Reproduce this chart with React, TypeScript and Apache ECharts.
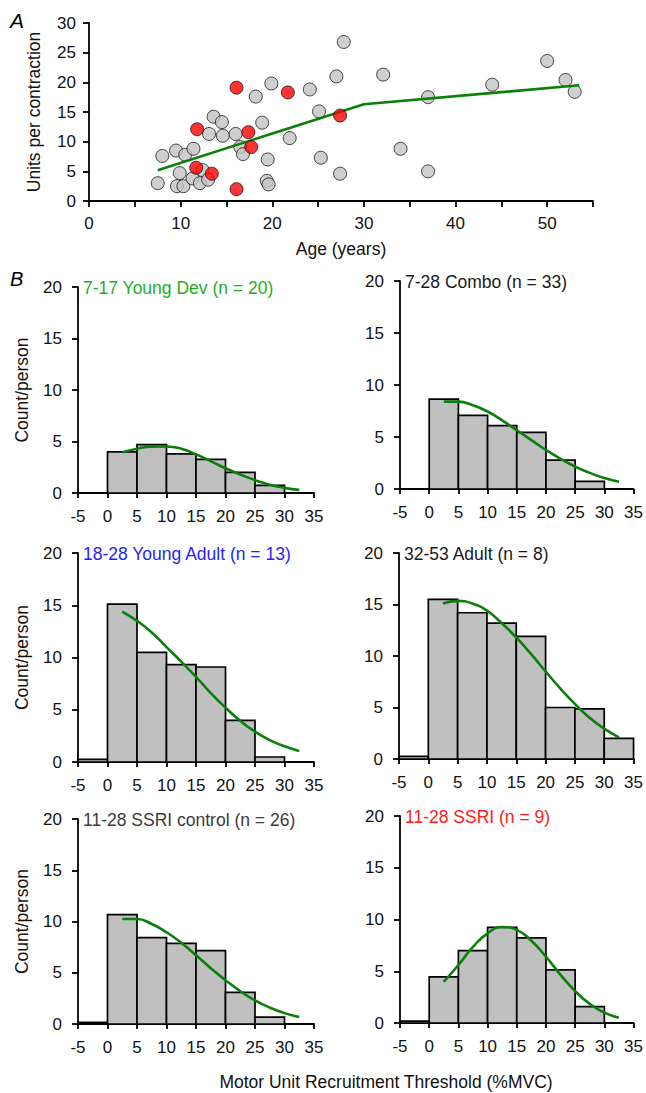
import React, { useEffect, useRef } from "react";
import * as echarts from "echarts";

// ---------- Panel A data ----------
const grayAge = [7.5, 8.0, 9.5, 9.6, 9.9, 10.3, 10.5, 11.4, 11.3, 12.1, 12.4, 13.1, 13.0, 13.6, 14.5, 14.6, 16.0, 16.5, 16.8, 18.2, 18.9, 19.5, 19.4, 19.6, 19.9, 21.9, 24.1, 25.1, 25.3, 27.0, 27.8, 27.4, 32.1, 34.0, 37.0, 37.0, 44.0, 50.0, 52.0, 53.0];
const grayUnits = [3.0, 7.6, 8.5, 2.5, 4.7, 2.5, 7.8, 8.8, 3.8, 3.0, 5.2, 11.3, 3.6, 14.2, 13.3, 11.0, 11.3, 9.1, 7.9, 17.6, 13.2, 7.0, 3.4, 2.8, 19.8, 10.6, 18.8, 15.1, 7.3, 21.0, 26.8, 4.6, 21.3, 8.8, 17.5, 5.0, 19.6, 23.6, 20.4, 18.4];
const redAge = [16.1, 21.7, 11.8, 17.4, 17.7, 11.7, 13.4, 16.1, 27.4];
const redUnits = [19.1, 18.3, 12.1, 11.6, 9.1, 5.6, 4.6, 2.0, 14.4];
const fitAge = [7.5, 30, 53.5];
const fitUnits = [5.2, 16.3, 19.5];

// ---------- Panel B data ----------
const binStarts = [-5, 0, 5, 10, 15, 20, 25, 30];
const binWidth = 5;
const curveX = [2.5, 5, 7.5, 10, 12.5, 15, 17.5, 20, 22.5, 25, 27.5, 30, 32.5];

const titles = [
  "7-17 Young Dev (n = 20)",
  "7-28 Combo (n = 33)",
  "18-28 Young Adult (n = 13)",
  "32-53 Adult (n = 8)",
  "11-28 SSRI control (n = 26)",
  "11-28 SSRI (n = 9)",
];
const titleColors = ["#1fae1f", "#1a1a1a", "#1f1fff", "#1a1a1a", "#3c3c3c", "#ff1a1a"];

const countsYoungDev = [0, 4.0, 4.7, 3.8, 3.27, 2.0, 0.75, 0];
const countsCombo = [0, 8.65, 7.07, 6.1, 5.44, 2.78, 0.74, 0];
const countsYoungAdult = [0.26, 15.1, 10.5, 9.32, 9.09, 3.99, 0.48, 0];
const countsAdult = [0.26, 15.5, 14.2, 13.2, 11.9, 5.0, 4.86, 2.0];
const countsSsriControl = [0.16, 10.67, 8.42, 7.87, 7.15, 3.09, 0.68, 0];
const countsSsri = [0.19, 4.45, 7.0, 9.23, 8.23, 5.13, 1.58, 0];

const curveYoungDev = [3.95, 4.3, 4.5, 4.52, 4.3, 3.75, 3.1, 2.4, 1.8, 1.25, 0.8, 0.5, 0.3];
const curveCombo = [8.4, 8.4, 8.05, 7.45, 6.6, 5.65, 4.7, 3.75, 2.9, 2.15, 1.55, 1.05, 0.7];
const curveYoungAdult = [14.4, 13.5, 12.4, 11.0, 9.6, 8.15, 6.6, 5.2, 3.95, 2.9, 2.1, 1.5, 1.05];
const curveAdult = [15.1, 15.35, 15.1, 14.4, 13.2, 11.8, 10.2, 8.5, 6.85, 5.35, 4.0, 2.95, 2.1];
const curveSsriControl = [10.25, 10.25, 9.76, 8.95, 7.93, 6.7, 5.45, 4.27, 3.2, 2.3, 1.6, 1.06, 0.68];
const curveSsri = [3.97, 5.6, 7.35, 8.66, 9.28, 9.0, 7.95, 6.4, 4.65, 3.08, 1.85, 1.0, 0.5];

const allCounts = [countsYoungDev, countsCombo, countsYoungAdult, countsAdult, countsSsriControl, countsSsri];
const allCurves = [curveYoungDev, curveCombo, curveYoungAdult, curveAdult, curveSsriControl, curveSsri];

const FONT = "Liberation Sans, Arial, sans-serif";
const TXT = "#111";
const GREEN = "#0a7f0a";

// layout (px) of each histogram plot area
const histGrids = [
  { left: 78, top: 287, width: 236, height: 206 },
  { left: 400, top: 281, width: 235, height: 208 },
  { left: 78, top: 553, width: 236, height: 209 },
  { left: 399, top: 553, width: 236, height: 206 },
  { left: 78, top: 819, width: 236, height: 205 },
  { left: 400, top: 816, width: 235, height: 207 },
];

export default function App() {
  const ref = useRef<HTMLDivElement>(null);
  useEffect(() => {
    if (!ref.current) return;
    const chart = echarts.init(ref.current, undefined, { renderer: "svg" });

    const axisLine = { show: true, onZero: false, lineStyle: { color: "#000", width: 1.8 } };
    const axisTick = { show: true, inside: false, length: 6, lineStyle: { color: "#000", width: 1.8 } };
    const tickFont = { color: TXT, fontSize: 17, fontFamily: FONT };

    const grids: any[] = [{ left: 89, top: 23, width: 504, height: 178 }];
    const xAxes: any[] = [
      {
        gridIndex: 0,
        type: "value",
        min: 0,
        max: 55,
        interval: 5,
        splitLine: { show: false },
        axisLine,
        axisTick,
        axisLabel: {
          ...tickFont,
          margin: 14,
          formatter: (v: number) => (v % 10 === 0 ? String(v) : ""),
        },
        name: "Age (years)",
        nameLocation: "middle",
        nameGap: 39,
        nameTextStyle: { color: TXT, fontSize: 17.5, fontFamily: FONT },
      },
    ];
    const yAxes: any[] = [
      {
        gridIndex: 0,
        type: "value",
        min: 0,
        max: 30,
        interval: 5,
        splitLine: { show: false },
        axisLine,
        axisTick,
        axisLabel: { ...tickFont, margin: 13 },
        name: "Units per contraction",
        nameLocation: "middle",
        nameGap: 46,
        nameTextStyle: { color: TXT, fontSize: 17.5, fontFamily: FONT },
      },
    ];

    const series: any[] = [
      {
        type: "scatter",
        xAxisIndex: 0,
        yAxisIndex: 0,
        data: grayAge.map((a, i) => [a, grayUnits[i]]),
        symbolSize: 13,
        itemStyle: { color: "#c3c3c3", borderColor: "#1a1a1a", borderWidth: 1 },
        z: 2,
      },
      {
        type: "line",
        xAxisIndex: 0,
        yAxisIndex: 0,
        data: fitAge.map((a, i) => [a, fitUnits[i]]),
        showSymbol: false,
        symbol: "none",
        lineStyle: { color: GREEN, width: 2.6 },
        z: 3,
      },
      {
        type: "scatter",
        xAxisIndex: 0,
        yAxisIndex: 0,
        data: redAge.map((a, i) => [a, redUnits[i]]),
        symbolSize: 13,
        itemStyle: { color: "#ff0000", borderColor: "#1a1a1a", borderWidth: 1 },
        z: 4,
      },
    ];

    const graphics: any[] = [
      { type: "text", left: 10, top: 10, style: { text: "A", fontSize: 21, fontStyle: "italic", fontFamily: FONT, fill: "#000" } },
      { type: "text", left: 10, top: 269, style: { text: "B", fontSize: 20, fontStyle: "italic", fontFamily: FONT, fill: "#000" } },
      {
        type: "text",
        x: 386,
        y: 1082,
        style: {
          text: "Motor Unit Recruitment Threshold (%MVC)",
          fontSize: 17.5,
          fontFamily: FONT,
          fill: TXT,
          align: "center",
          verticalAlign: "middle",
        },
      },
    ];

    histGrids.forEach((g, k) => {
      const gi = k + 1;
      grids.push(g);
      const isLeft = k % 2 === 0;
      xAxes.push({
        gridIndex: gi,
        type: "value",
        min: -5,
        max: 35,
        interval: 5,
        splitLine: { show: false },
        axisLine,
        axisTick: { ...axisTick, length: 5 },
        axisLabel: { ...tickFont, margin: 15 },
      });
      yAxes.push({
        gridIndex: gi,
        type: "value",
        min: 0,
        max: 20,
        interval: 5,
        splitLine: { show: false },
        axisLine,
        axisTick,
        axisLabel: { ...tickFont, margin: 16 },
        name: isLeft ? "Count/person" : "",
        nameLocation: "middle",
        nameGap: 47,
        nameTextStyle: { color: TXT, fontSize: 17.5, fontFamily: FONT },
      });
      const counts = allCounts[k];
      series.push({
        type: "custom",
        xAxisIndex: gi,
        yAxisIndex: gi,
        data: binStarts
          .map((b, i) => [b, b + binWidth, counts[i]])
          .filter((d) => d[2] > 0),
        renderItem: (params: any, api: any) => {
          const x0 = api.value(0);
          const x1 = api.value(1);
          const y = api.value(2);
          const p0 = api.coord([x0, y]);
          const p1 = api.coord([x1, 0]);
          return {
            type: "rect",
            shape: { x: p0[0], y: p0[1], width: p1[0] - p0[0], height: p1[1] - p0[1] },
            style: { fill: "#c0c0c0", stroke: "#000", lineWidth: 1.7 },
          };
        },
        z: 2,
      });
      const curve = allCurves[k];
      series.push({
        type: "line",
        xAxisIndex: gi,
        yAxisIndex: gi,
        data: curveX.map((x, i) => [x, curve[i]]),
        smooth: true,
        showSymbol: false,
        symbol: "none",
        lineStyle: { color: GREEN, width: 2.6 },
        z: 3,
      });
      graphics.push({
        type: "text",
        x: g.left + 5,
        y: g.top + 1,
        style: {
          text: titles[k],
          fontSize: 17.5,
          fontFamily: FONT,
          fill: titleColors[k],
          align: "left",
          verticalAlign: "middle",
        },
      });
    });

    chart.setOption({
      animation: false,
      backgroundColor: "#fff",
      grid: grids,
      xAxis: xAxes,
      yAxis: yAxes,
      series,
      graphic: graphics,
    });
    return () => chart.dispose();
  }, []);
  return (
    <div
      ref={ref}
      style={{ position: "fixed", left: 0, top: 0, width: 646, height: 1093, background: "#fff" }}
    />
  );
}
